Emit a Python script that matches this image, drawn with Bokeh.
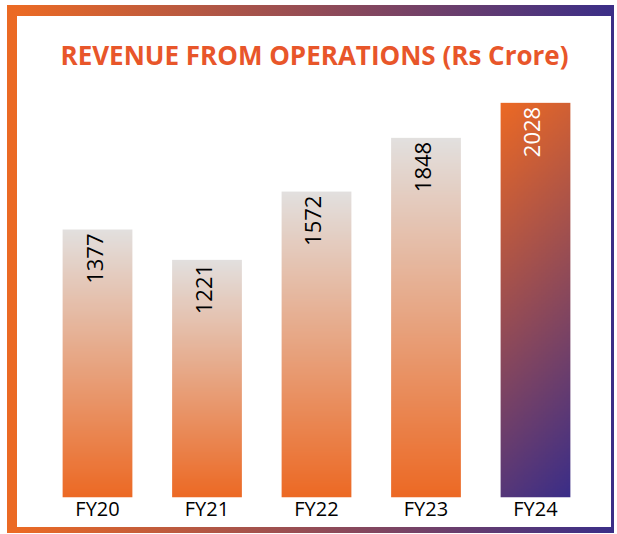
import numpy as np
from bokeh.plotting import figure
from bokeh.layouts import column
from bokeh.models import Range1d, FixedTicker
from bokeh.embed import file_html
from bokeh.resources import INLINE
from bokeh.core.properties import value

# ---- data ----
years = ["FY20", "FY21", "FY22", "FY23", "FY24"]
revenue = [1377, 1221, 1572, 1848, 2028]
title_text = "REVENUE FROM OPERATIONS (Rs Crore)"

# ---- style ----
GREY_TOP = (226, 224, 223)
ORANGE = (236, 105, 36)
PURPLE = (58, 45, 136)
TITLE_COLOR = "#E8562A"
BAR_W = 0.637


def grad_image(c_top, c_bottom, rows=256, cols=1, slant=0.0):
    img = np.empty((rows, cols), dtype=np.uint32)
    view = img.view(dtype=np.uint8).reshape((rows, cols, 4))
    v = 1.0 - np.arange(rows) / (rows - 1)          # 0 at top, 1 at bottom
    u = np.arange(cols) / max(cols - 1, 1)           # 0 at left, 1 at right
    t = (v[:, None] + slant * u[None, :]) / (1.0 + slant)
    for k in range(3):
        view[:, :, k] = np.round(c_top[k] + (c_bottom[k] - c_top[k]) * t).astype(np.uint8)
    view[:, :, 3] = 255
    return img


p = figure(width=594, height=511,
           x_range=Range1d(-0.7306, 4.6941), y_range=Range1d(0, 2112),
           output_backend="svg", toolbar_location=None, y_axis_location=None,
           min_border_left=0, min_border_right=0, min_border_top=70, min_border_bottom=30)

p.title.text = title_text
p.title.align = "center"
p.title.text_font = "Open Sans"
p.title.text_font_style = "bold"
p.title.text_font_size = "26px"
p.title.text_color = TITLE_COLOR
p.title.standoff = 28

n = len(years)
xs = list(range(n))
images = []
for i in range(n):
    if i < n - 1:
        images.append(grad_image(GREY_TOP, ORANGE))
    else:
        images.append(grad_image(ORANGE, PURPLE, rows=256, cols=40, slant=0.18))

p.image_rgba(image=images, x=[x - BAR_W / 2 for x in xs], y=[0] * n,
             dw=[BAR_W] * n, dh=revenue)

p.text(x=xs, y=revenue, text=[str(v) for v in revenue], angle=np.pi / 2,
       text_align="right", text_baseline="middle", y_offset=4, x_offset=-3,
       text_font=value("Open Sans"), text_font_size="22px",
       text_color=["black"] * (n - 1) + ["white"])

p.xaxis.ticker = FixedTicker(ticks=xs)
p.xaxis.major_label_overrides = {i: y for i, y in enumerate(years)}
p.xaxis.axis_line_color = None
p.xaxis.major_tick_line_color = None
p.xaxis.minor_tick_line_color = None
p.xaxis.major_tick_out = 0
p.xaxis.major_tick_in = 0
p.xaxis.minor_tick_out = 0
p.xaxis.minor_tick_in = 0
p.xaxis.major_label_text_font = "Open Sans"
p.xaxis.major_label_text_font_size = "20px"
p.xaxis.major_label_text_color = "black"
p.xaxis.major_label_standoff = -3

p.xgrid.visible = False
p.ygrid.visible = False
p.outline_line_color = None
p.background_fill_color = "white"
p.border_fill_color = "white"

layout = column(p, styles={
    "box-sizing": "content-box",
    "margin-left": "7px",
    "margin-top": "5px",
    "border-style": "solid",
    "border-width": "11px 3px 6px 10px",
    "border-image": "linear-gradient(to right, #EB6A24, #3B2E87) 1",
})

open("out.html", "w").write(file_html(layout, INLINE))
